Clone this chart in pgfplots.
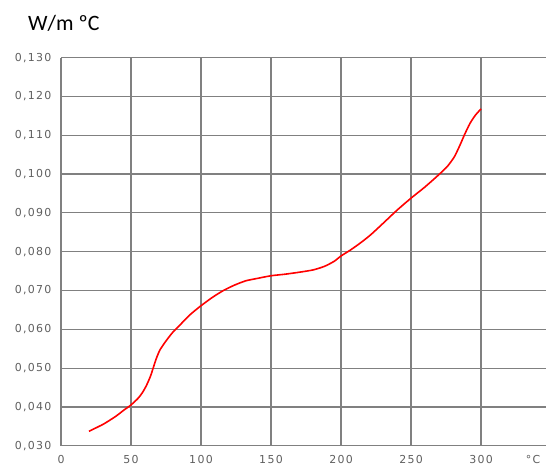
\documentclass[border=0pt]{standalone}
\usepackage{pgfplots}
\pgfplotsset{compat=1.18}
\usepackage{fontspec}
\setmainfont{Carlito}
\newfontfamily\tickfont[LetterSpace=12]{DejaVu Sans}
\definecolor{gridgray}{RGB}{128,128,128}
\definecolor{ticktext}{RGB}{95,95,95}

\pgfplotstableread{
x y
20 0.0337
25 0.0346
30 0.0355
35 0.0366
40 0.0378
45 0.0392
50 0.0405
55 0.0422
58 0.0436
61 0.0455
64 0.0480
66 0.0502
68 0.0524
70.7 0.0547
75 0.0570
80 0.0593
86 0.0615
92 0.0637
99 0.0658
108 0.0682
116 0.0700
124 0.0714
132 0.0725
140 0.0731
150 0.0738
160 0.0742
170 0.0747
180 0.0753
188 0.0762
195 0.0775
200 0.0789
207 0.0805
214 0.0823
221 0.0843
230 0.0873
240 0.0907
250 0.0938
260 0.0967
270 0.0999
276 0.1020
281 0.1045
285 0.1075
288 0.1100
292 0.1130
296 0.1152
300 0.1168
}\conductivity

\begin{document}
\begin{tikzpicture}
\begin{axis}[
  at={(0,0)}, anchor=south west,
  scale only axis,
  width=485bp, height=388bp,
  xmin=0, xmax=346.4,
  ymin=0.03, ymax=0.13,
  xtick={0,50,...,300},
  ytick={0.03,0.04,...,0.131},
  axis x line*=bottom, axis y line*=left,
  axis line style={gridgray, line width=1.2bp, -},
  grid=major,
  major grid style={gridgray, line width=1.2bp},
  tick style={draw=none},
  /pgf/number format/assume math mode=true,
  ticklabel style={font=\tickfont\fontsize{11}{12}\selectfont, text=ticktext},
  x tick label style={anchor=center, yshift=-13.6bp, inner sep=0pt},
  y tick label style={anchor=east, xshift=-6bp,
    /pgf/number format/.cd, fixed, fixed zerofill, precision=3, use comma},
  xtick pos=bottom, ytick pos=left,
  clip=false,
]
\addplot[red, line width=1.6bp, smooth, tension=0.4] table {\conductivity};
\end{axis}
\node[font=\tickfont\fontsize{11}{12}\selectfont, text=ticktext, inner sep=0pt] at (472bp,-13.6bp) {°C};
\node[anchor=base west, font=\fontsize{22}{24}\selectfont, inner sep=0pt] at (-33bp,414.7bp) {W/m ºC};
\pgfresetboundingbox
\path[use as bounding box] (-61bp,-20.3bp) rectangle (485bp,445.7bp);
\end{tikzpicture}
\end{document}
